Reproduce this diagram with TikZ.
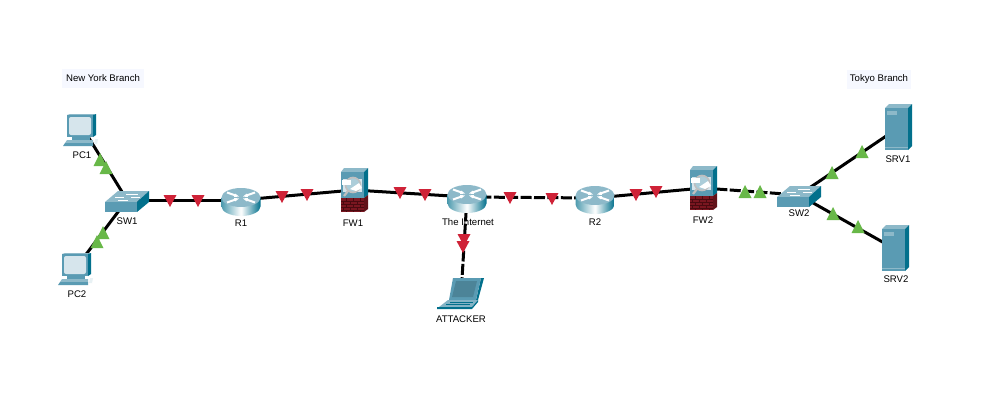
\documentclass[tikz,border=0pt]{standalone}
\usepackage{fontspec}
\setmainfont{Liberation Sans}
\usetikzlibrary{positioning}

\definecolor{devfront}{HTML}{5A9BB3}
\definecolor{devside}{HTML}{02708C}
\definecolor{devtop}{HTML}{8DB9C9}
\definecolor{devscreen}{HTML}{D6E5EC}
\definecolor{brick}{HTML}{7A1620}
\definecolor{brickline}{HTML}{4A0A10}
\definecolor{markred}{HTML}{CF2237}
\definecolor{markgreen}{HTML}{68B848}
\definecolor{notebg}{HTML}{F6F8FF}

\tikzset{
  devlabel/.style={inner sep=0pt,font=\fontsize{4.8}{5}\selectfont,text=black},
  notelabel/.style={fill=notebg,inner sep=0pt,font=\fontsize{4.8}{5}\selectfont,text=black},
  link/.style={line width=1.5pt,black},
  dashlink/.style={link,dash pattern=on 5.5pt off 1.2pt},
  routericon/.pic={
    \shade[left color=devside!70!white,right color=devside,middle color=white] (-19.5,-2.5) -- (-19.5,6.5) arc[start angle=180,end angle=0,x radius=19.5,y radius=9.5] -- (19.5,-2.5) -- cycle;
    \fill[devtop] (0,-2.5) ellipse[x radius=19.5,y radius=9.5];
    \foreach \s/\t in {1/1,-1/1,1/-1,-1/-1} {
      \draw[white,line width=1pt] (\s*4,\t*1.5-2.5) -- (\s*14,\t*5-2.5);
      \fill[white] (\s*2,\t*1-2.5) -- (\s*7,\t*0.5-2.5) -- (\s*6,\t*4-2.5) -- cycle;
    }
  },
  switchicon/.pic={
    \fill[devtop] (-22,2) -- (-9,-9) -- (22,-9) -- (10,2) -- cycle;
    \fill[devfront] (-22,2) rectangle (10,12);
    \fill[devside] (10,2) -- (22,-9) -- (22,2) -- (10,12) -- cycle;
    \draw[white,line width=0.5pt] (-9,0) -- (1,0) (-1,-6) -- (11,-6) (-12,-3) -- (-3,-3) (4,-3) -- (13,-3);
  },
  pcicon/.pic={
    \fill[devtop] (-13,-15) -- (-10,-16) -- (16,-16) -- (13,-15) -- cycle;
    \fill[devside] (13,-15) -- (16,-16) -- (16,5) -- (13,7) -- cycle;
    \fill[devfront] (-13,-15) rectangle (13,7);
    \fill[devscreen,rounded corners=1pt] (-11,-13) rectangle (11,5);
    \fill[devfront] (-8,7) rectangle (10,10);
    \fill[devtop] (-13,10) -- (13,10) -- (13,13) -- (-15,13) -- cycle;
    \fill[devfront] (-17,16) -- (-15,13) -- (13,13) -- (13,16) -- cycle;
    \fill[white!80!devtop] (15,9) -- (18,9) -- (17,14) -- (14,14) -- cycle;
  },
  fwicon/.pic={
    \fill[devtop] (-13,-18) -- (-10,-22) -- (14,-22) -- (10,-18) -- cycle;
    \fill[devside] (10,-18) -- (14,-22) -- (14,5) -- (10,8) -- cycle;
    \fill[devfront] (-13,-18) rectangle (10,8);
    \fill[brick!80!black] (10,8) -- (14,5) -- (14,19) -- (10,22) -- cycle;
    \fill[brick] (-13,8) rectangle (10,22);
    \foreach \y in {11,14,17,20} \draw[brickline,line width=0.3pt] (-13,\y) -- (10,\y);
    \foreach \x in {-8,-1,6} \draw[brickline,line width=0.3pt] (\x,8) -- (\x,11) (\x,14) -- (\x,17) (\x,20) -- (\x,22);
    \foreach \x in {-11,-4,3} \draw[brickline,line width=0.3pt] (\x,11) -- (\x,14) (\x,17) -- (\x,20);
    \fill[devscreen] (-11,-11) rectangle (8,2);
    \draw[gray!50!white,line width=0.8pt,fill=devfront!50!white] (-1,-5) circle[radius=7.5];
    \draw[gray!50!white,line width=1.1pt] (-6,1) -- (-10,6);
    \fill[white] (-12,-10) -- (-3,-10) -- (-3,-5) -- (-12,-5) -- cycle;
    \fill[white] (-4,-1) -- (5,-7) -- (8,-2) -- (2,1) -- cycle;
  },
  srvicon/.pic={
    \fill[devtop] (-13,-20) -- (-9,-24) -- (14,-24) -- (10,-20) -- cycle;
    \fill[devside] (10,-20) -- (14,-24) -- (14,18) -- (10,22) -- cycle;
    \fill[devfront] (-13,-20) rectangle (10,22);
    \fill[devtop] (-11,-17) rectangle (-1,-13);
    \draw[devtop,line width=0.5pt] (-13,19) -- (10,19);
  },
  lapicon/.pic={
    \fill[devside] (-8,-17) -- (23,-17) -- (17,5) -- (15,5) -- (20,-17) -- cycle;
    \fill[devfront] (-8,-17) -- (20,-17) -- (15,5) -- (-12,5) -- cycle;
    \fill[devfront!85!black] (-5,-14) -- (16,-14) -- (12,2) -- (-9,2) -- cycle;
    \fill[devtop!80!devfront] (-13,5) -- (17,5) -- (11,12) -- (-22,12) -- cycle;
    \fill[devside] (-24,12) -- (11,12) -- (17,5) -- (17,7) -- (11,14) -- (-24,14) -- cycle;
    \draw[devside,line width=0.3pt] (-11,7) -- (12,7) (-15,9) -- (9,9);
  }
}

\begin{document}
\begin{tikzpicture}[x=0.5pt,y=-0.5pt]

  \useasboundingbox (0,0) rectangle (992,412);
  \fill[white] (0,0) rectangle (992,412);

  \coordinate (pc1) at (84,130);
  \coordinate (pc2) at (75,269);
  \coordinate (sw1) at (127,200);
  \coordinate (r1) at (241,200);
  \coordinate (fw1) at (354,190);
  \coordinate (inet) at (467,197);
  \coordinate (r2) at (595,198);
  \coordinate (fw2) at (703,188);
  \coordinate (sw2) at (799,195);
  \coordinate (srv1) at (898,128);
  \coordinate (srv2) at (895,249);
  \coordinate (lap) at (461,295);

  % links
  \draw[link] (pc1) -- (sw1);
  \draw[link] (pc2) -- (sw1);
  \draw[link] (sw1) -- (r1);
  \draw[link] (r1) -- (fw1);
  \draw[link] (fw1) -- (inet);
  \draw[dashlink] (inet) -- (r2);
  \draw[link] (r2) -- (fw2);
  \draw[dashlink] (fw2) -- (sw2);
  \draw[link] (sw2) -- (srv1);
  \draw[link] (sw2) -- (srv2);
  \draw[dashlink] (inet) -- (lap);

  % devices
  \pic at (80,130) {pcicon};
  \pic at (pc2) {pcicon};
  \pic at (sw1) {switchicon};
  \pic at (r1) {routericon};
  \pic at (fw1) {fwicon};
  \pic at (inet) {routericon};
  \pic at (r2) {routericon};
  \pic at (fw2) {fwicon};
  \pic at (sw2) {switchicon};
  \pic at (srv1) {srvicon};
  \pic at (srv2) {srvicon};
  \pic at (lap) {lapicon};

  % traffic marks
  \foreach \x/\y in {170/200,198/200,282/196,307/194,400/192,425/194,510/197,552/198,636/194,656/191,464/239,463/246}
    \fill[markred] (\x-6.5,\y-5) -- (\x+6.5,\y-5) -- (\x,\y+7) -- cycle;
  \foreach \x/\y in {100/160,106/168,103/233,97/242,745/192,760/192,832/173,862/152,833/214,858/227}
    \fill[markgreen] (\x-6.5,\y+6) -- (\x+6.5,\y+6) -- (\x,\y-7) -- cycle;

  % labels
  \node[devlabel] (pc1text) at (82,155) {PC1};
  \node[devlabel] (pc2text) at (77,294) {PC2};
  \node[devlabel] (sw1text) at (127,221) {SW1};
  \node[devlabel] (r1text) at (241,223) {R1};
  \node[devlabel] (fw1text) at (353,223) {FW1};
  \node[devlabel] (inettext) at (468,222) {The Internet};
  \node[devlabel] (r2text) at (595,222) {R2};
  \node[devlabel] (fw2text) at (703,220) {FW2};
  \node[devlabel] (sw2text) at (799,213) {SW2};
  \node[devlabel] (srv1text) at (898,159) {SRV1};
  \node[devlabel] (srv2text) at (896,279) {SRV2};
  \node[devlabel] (laptext) at (461,319) {ATTACKER};

  \node[notelabel,minimum width=41pt,minimum height=9.5pt] (nynote) at (103,78.5) {New York Branch};
  \node[notelabel,minimum width=32pt,minimum height=9.5pt] (tokyonote) at (879,79.5) {Tokyo Branch};

\end{tikzpicture}
\end{document}
